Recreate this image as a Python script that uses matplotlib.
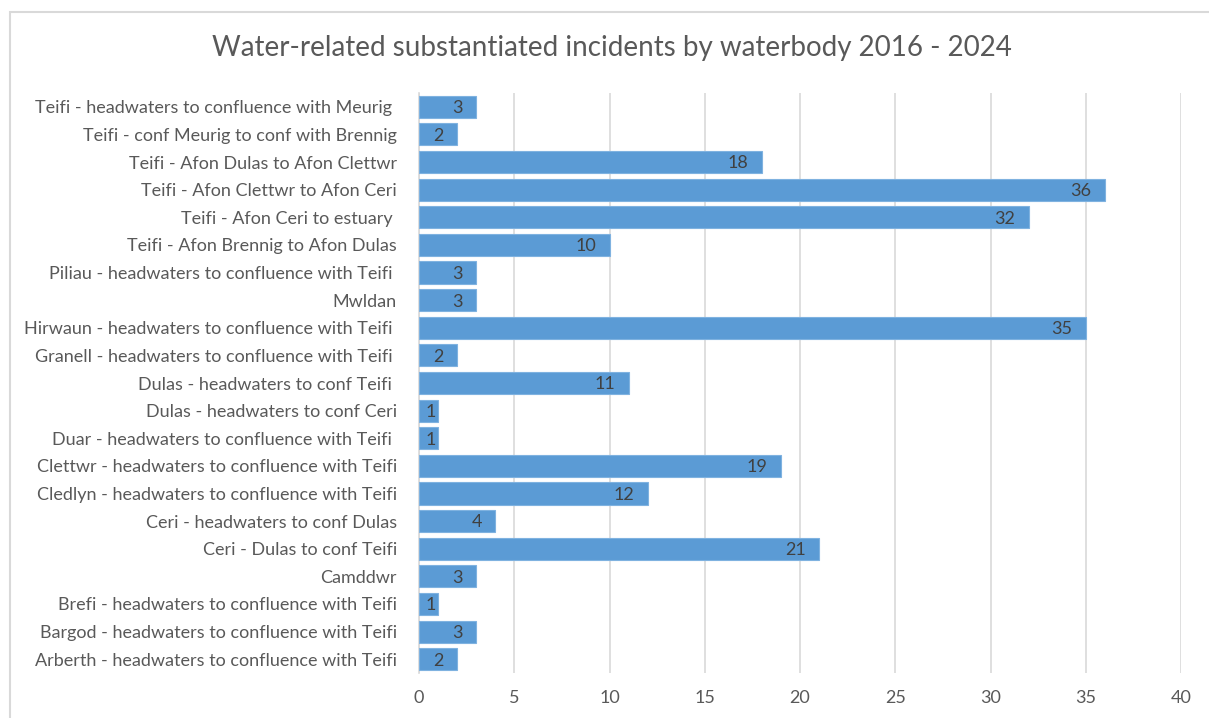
import matplotlib
matplotlib.use('Agg')
import matplotlib.pyplot as plt
from matplotlib.patches import Rectangle

# datos (de arriba hacia abajo como en la grafica)
categorias = [
    "Teifi - headwaters to confluence with Meurig ",
    "Teifi - conf Meurig to conf with Brennig",
    "Teifi - Afon Dulas to Afon Clettwr",
    "Teifi - Afon Clettwr to Afon Ceri",
    "Teifi - Afon Ceri to estuary ",
    "Teifi - Afon Brennig to Afon Dulas",
    "Piliau - headwaters to confluence with Teifi ",
    "Mwldan",
    "Hirwaun - headwaters to confluence with Teifi ",
    "Granell - headwaters to confluence with Teifi ",
    "Dulas - headwaters to conf Teifi ",
    "Dulas - headwaters to conf Ceri",
    "Duar - headwaters to confluence with Teifi ",
    "Clettwr - headwaters to confluence with Teifi",
    "Cledlyn - headwaters to confluence with Teifi",
    "Ceri - headwaters to conf Dulas",
    "Ceri - Dulas to conf Teifi",
    "Camddwr",
    "Brefi - headwaters to confluence with Teifi",
    "Bargod - headwaters to confluence with Teifi",
    "Arberth - headwaters to confluence with Teifi",
]
incidentes = [3, 2, 18, 36, 32, 10, 3, 3, 35, 2, 11, 1, 1, 19, 12, 4, 21, 3, 1, 3, 2]
ticksX = [0, 5, 10, 15, 20, 25, 30, 35, 40]
titulo = "Water-related substantiated incidents by waterbody 2016 - 2024"

plt.rcParams['font.family'] = ['Lato', 'DejaVu Sans']
gris = "#595959"

fig = plt.figure(figsize=(12.09, 7.18), dpi=100)
# marco del grafico (recortado a la derecha y abajo)
fig.patches.append(Rectangle((10 / 1209, -0.1), 1.2, 1 - 12 / 718 + 0.1,
                             transform=fig.transFigure, fill=False,
                             edgecolor="#D9D9D9", linewidth=1.5))

ax = fig.add_axes([419 / 1209, 1 - 673 / 718, (1181 - 419) / 1209, (673 - 93) / 718])

posY = list(range(len(categorias)))[::-1]
barras = ax.barh(posY, incidentes, height=0.8, color="#5B9BD5",
                 edgecolor="#7FB2E0", linewidth=0.8, zorder=3)

# etiquetas dentro del final de la barra, si no caben se pegan al inicio
for y, v in zip(posY, incidentes):
    if v >= 2:
        ax.annotate(str(v), xy=(v, y), xytext=(-9.5, -1), textcoords="offset points",
                    ha="right", va="center", fontsize=13, color="#404040", zorder=4)
    else:
        ax.annotate(str(v), xy=(0, y), xytext=(5, -1), textcoords="offset points",
                    ha="left", va="center", fontsize=13, color="#404040", zorder=4)

ax.set_yticks(posY)
ax.set_yticklabels(categorias, fontsize=13.0, color=gris)
ax.set_ylim(-0.5, len(categorias) - 0.5)
ax.set_xlim(0, 40)
ax.set_xticks(ticksX)
ax.set_xticklabels([str(t) for t in ticksX], fontsize=13.0, color=gris)
ax.tick_params(axis="both", length=0)
ax.tick_params(axis="x", pad=12)
ax.tick_params(axis="y", pad=16)

ax.grid(axis="x", color="#D9D9D9", linewidth=1.2, zorder=0)
for lado in ["top", "right", "bottom"]:
    ax.spines[lado].set_visible(False)
ax.spines["left"].set_color("#D9D9D9")
ax.spines["left"].set_linewidth(1.2)

fig.text(612 / 1209, 1 - 48 / 718, titulo, ha="center", va="center",
         fontsize=20, color=gris)

fig.savefig("out.png", dpi=100)
plt.close(fig)
